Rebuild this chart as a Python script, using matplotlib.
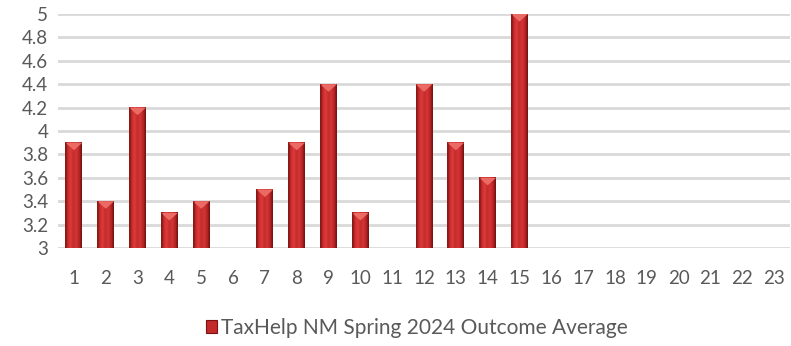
import numpy as np
import matplotlib.pyplot as plt
from matplotlib.colors import LinearSegmentedColormap
from matplotlib.patches import Polygon, Patch

plt.rcParams['font.family'] = ['Lato', 'DejaVu Sans']

# session numbers and average outcome score (blank sessions have no value)
sessions = [str(i) for i in range(1, 24)]
averages = [3.9, 3.4, 4.2, 3.3, 3.4, None, 3.5, 3.9, 4.4, 3.3, None,
            4.4, 3.9, 3.6, 5.0, None, None, None, None, None, None, None, None]
series_name = "TaxHelp NM Spring 2024 Outcome Average"

y_min, y_max = 3, 5
y_ticks = np.arange(3, 5.01, 0.2)

fig = plt.figure(figsize=(7.91, 3.46), dpi=100)
ax = fig.add_axes([58 / 791, 1 - 248 / 346, 732 / 791, 234 / 346])

x = np.arange(len(sessions))
width = 0.53
grey = "#595959"

# shaded bar fill: dark edges, bright body, slightly darker middle
shade = LinearSegmentedColormap.from_list(
    "bevel", ["#7a1212", "#c82c2c", "#dc3c3c", "#c42a2a", "#d43636", "#bc2626", "#6e1010"])
grad = np.linspace(0, 1, 64).reshape(1, -1)

for xi, v in zip(x, averages):
    if v is None:
        continue
    x0, x1 = xi - width / 2, xi + width / 2
    ax.imshow(grad, cmap=shade, extent=(x0, x1, y_min, v), aspect="auto",
              interpolation="bicubic", zorder=3)
    # lighter bevel at the top of each bar
    tip = 0.065
    ax.add_patch(Polygon([(x0, v), (x1, v), (xi, v - tip)], closed=True,
                         facecolor="#ec6a64", edgecolor="none", zorder=4))
    ax.add_patch(Polygon([(x0, v), (x0 + 0.06, v), (x0 + 0.06, y_min), (x0, y_min)],
                         closed=True, facecolor="#8e1a1a", alpha=0.5,
                         edgecolor="none", zorder=4))

ax.set_xlim(-0.5, len(sessions) - 0.5)
ax.set_ylim(y_min, y_max)
ax.set_yticks(y_ticks)
ax.set_yticklabels([f"{t:g}" for t in y_ticks])
ax.set_xticks(x)
ax.set_xticklabels(sessions)
ax.yaxis.grid(True, color="#d9d9d9", linewidth=2, zorder=0)
ax.set_axisbelow(True)
for s in ax.spines.values():
    s.set_visible(False)
ax.tick_params(axis="both", length=0, labelsize=13.5, colors=grey)
ax.tick_params(axis="x", pad=16)
ax.tick_params(axis="y", pad=7)

handle = Patch(facecolor="#c42a2a", edgecolor="#7a1212", linewidth=0.8)
fig.legend([handle], [series_name], loc="center", bbox_to_anchor=(0.527, 1 - 328 / 346),
           frameon=False, fontsize=15, labelcolor=grey, handlelength=0.55,
           handleheight=0.55, handletextpad=0.2)

fig.savefig("out.png", dpi=100)
